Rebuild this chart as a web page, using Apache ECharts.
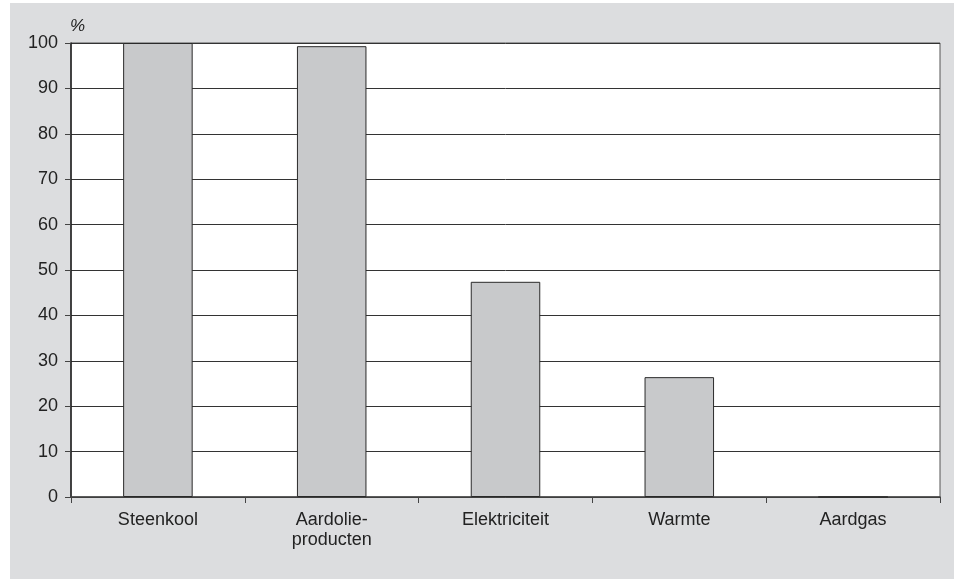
<!DOCTYPE html>
<html>
<head>
<meta charset="utf-8">
<script src="https://cdn.jsdelivr.net/npm/echarts@6/dist/echarts.min.js"></script>
<style>
  html, body { margin: 0; padding: 0; background: #ffffff; }
  #chart { position: absolute; left: 10px; top: 3px; width: 944px; height: 576px; }
</style>
</head>
<body>
<div id="chart"></div>
<script>
// Energy carriers and their share (%)
const categories = ['Steenkool', 'Aardolie-\nproducten', 'Elektriciteit', 'Warmte', 'Aardgas'];
const shares = [100, 99.3, 47.4, 26.4, 0];
const yTicks = { min: 0, max: 100, interval: 10 };

const chart = echarts.init(document.getElementById('chart'), null, { renderer: 'canvas' });

chart.setOption({
  backgroundColor: '#dcdddf',
  animation: false,
  textStyle: { fontFamily: 'Liberation Sans, Arial, sans-serif' },
  grid: {
    left: 61, right: 14, top: 40, bottom: 82,
    show: true,
    backgroundColor: '#ffffff',
    borderColor: '#555555',
    borderWidth: 1
  },
  xAxis: {
    type: 'category',
    data: categories,
    boundaryGap: true,
    axisLine: { lineStyle: { color: '#444444', width: 1.5 } },
    axisTick: { show: true, length: 6, lineStyle: { color: '#444444' } },
    axisLabel: {
      color: '#222222', fontSize: 18, margin: 13, lineHeight: 20, interval: 0
    }
  },
  yAxis: {
    type: 'value',
    min: yTicks.min, max: yTicks.max, interval: yTicks.interval,
    name: '%',
    nameLocation: 'end',
    nameGap: 8,
    nameTextStyle: { color: '#222222', fontSize: 17, fontStyle: 'italic', padding: [0, 0, 0, 13] },
    axisLine: { show: true, lineStyle: { color: '#222222', width: 1.5 } },
    axisTick: { show: true, length: 6, lineStyle: { color: '#444444' } },
    axisLabel: { color: '#222222', fontSize: 18, margin: 13 },
    splitLine: { show: true, lineStyle: { color: '#333333', width: 1 } }
  },
  series: [{
    type: 'bar',
    data: shares,
    barWidth: '40%',
    itemStyle: { color: '#c8c9cb', borderColor: '#2a2a2a', borderWidth: 1 }
  }]
});
</script>
</body>
</html>
